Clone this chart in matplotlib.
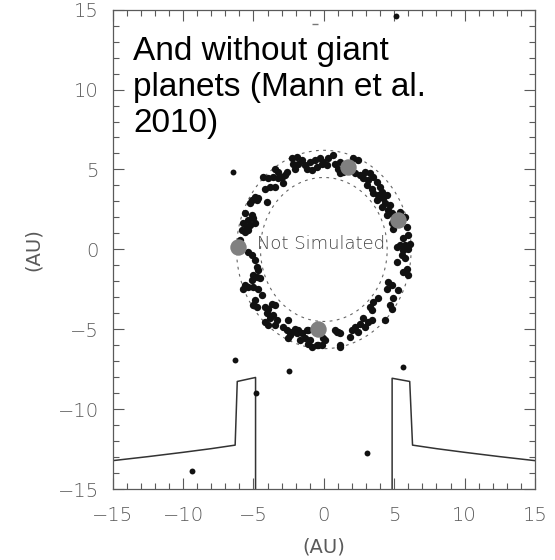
import numpy as np
import matplotlib
matplotlib.use("Agg")
import matplotlib.pyplot as plt

# debris particles in the belt (AU)
ring_x = [-2.29, -1.93, -1.58, -1.82, -1.34, -0.99, -0.63, -0.28, -0.16, -0.51, -0.87, -1.22, -2.05, -2.17,
          -3.47, -3.24, -3.59, -3.95, -4.30, -3.00, -2.76, -2.64, -3.24, -2.88, -3.83, -4.18, -3.47,
          -4.89, -4.66, -5.13, -5.25, -4.77, -4.06, -5.60, -5.13, -5.01, -5.37, -5.72, -5.48, -5.25,
          -5.84, -5.60, -5.37, -4.89, -5.96,
          -0.04, 0.31, 0.67, 0.20, 0.79, 1.14, 1.02, 1.14, 2.09, 2.44, 1.38, 2.21, 2.56, 2.92, 3.27,
          2.80, 3.15, 3.51, 3.04, 3.39, 3.75, 3.98, 3.51, 3.86, 4.10, 3.75, 4.22, 4.46, 4.34, 4.69,
          4.10, 4.57, 4.82, 4.46, 5.05, 4.82, 5.40, 5.76, 5.88, 4.93, 5.64, 5.99, 5.76, 6.12, 5.40,
          -5.37, -5.13, -4.89, -4.77, -4.66, -5.01, -4.77, -4.54, -5.13, -5.60, -5.37, -5.72, -5.01,
          -4.66, -4.42, -4.89, -5.01, -4.77, -4.18, -3.95, -3.71, -3.47, -4.06, -3.59, -3.83, -4.18,
          -3.95, -3.47, -3.35, -2.88, -2.64, -2.29, -2.05, -2.41, -1.93, -1.58, -1.22, -1.34, -1.70,
          -1.11, -0.87, -0.51,
          5.17, 5.64, 5.99, 5.76, 5.17, 5.53, 5.88, 5.64, 5.99, 4.57, 4.82, 4.46, 5.28, 4.93, 4.69,
          4.82, 3.51, 3.86, 3.27, 3.39, 2.80, 3.15, 3.39, 2.56, 2.92, 2.21, 2.44, 1.97, 1.85, 1.14,
          0.79, 1.02, -0.04, 1.14, -0.16, 4.34,
          -1.11, -0.99, -0.40, 0.08, 1.14, 0.91, -2.53, -1.82, -2.53]
ring_y = [5.69, 5.79, 5.58, 5.37, 5.27, 5.48, 5.58, 5.69, 5.37, 5.16, 4.96, 5.06, 5.06, 5.37,
          5.06, 4.85, 4.54, 4.44, 4.54, 4.54, 4.64, 4.85, 4.44, 4.13, 3.91, 3.81, 3.91,
          3.29, 3.19, 3.08, 2.88, 3.08, 2.98, 2.25, 2.14, 1.94, 1.83, 1.63, 1.41, 1.52,
          1.21, 1.10, 1.21, 1.63, 0.58,
          5.48, 5.69, 5.89, 5.27, 5.37, 5.48, 5.06, 4.75, 5.69, 5.58, 4.85, 4.75, 4.64, 4.85, 4.75,
          4.44, 4.33, 4.54, 4.02, 3.81, 4.23, 3.91, 3.50, 3.39, 3.60, 3.08, 3.19, 3.39, 2.88, 2.77,
          2.66, 2.46, 2.25, 2.14, 2.04, 1.63, 2.35, 2.04, 1.41, 1.31, 0.69, 0.89, 0.27, 0.37, 0.27,
          -0.15, -0.36, -0.67, -1.09, -1.29, -1.61, -1.71, -1.81, -1.92, -2.23, -2.34, -2.44, -2.34,
          -2.44, -2.86, -3.17, -3.48, -3.59, -3.59, -3.69, -3.38, -3.48, -4.00, -4.11, -4.31, -4.53,
          -4.73, -4.73, -4.42, -4.84, -5.04, -5.15, -4.94, -5.36, -5.25, -5.25, -5.04, -5.56, -5.67,
          -5.88, -6.09, -5.98,
          0.16, -0.04, 0.06, -0.56, -0.78, -0.36, -1.19, -1.40, -1.61, -2.03, -2.23, -2.44, -2.54, -3.06, -3.48,
          -3.69, -3.28, -3.06, -3.59, -3.79, -4.31, -4.53, -4.42, -4.63, -4.84, -4.84, -5.15, -5.04, -5.46, -5.25,
          -5.04, -5.15, -5.56, -5.98, -5.98, -4.42,
          -5.04, -5.67, -5.98, -5.67, -6.09, -5.15, -4.42, -5.04, -5.56]

# scattered particles away from the belt
stray_x = [-6.46, 5.12, -6.29, -4.84, -9.39, -2.48, 5.60, 3.04]
stray_y = [4.83, 14.6, -6.88, -9.00, -13.84, -7.60, -7.36, -12.73]

# planets (grey)
planet_x = [1.73, 5.28, -6.08, -0.44]
planet_y = [5.16, 1.83, 0.16, -5.00]

# belt boundaries
belt_radii = [4.5, 6.2]

# simulation edge
edge_left_x = [-15, -12.5, -10, -8, -6.3, -6.15, -4.85, -4.85]
edge_left_y = [-13.2, -12.95, -12.68, -12.45, -12.23, -8.25, -8.0, -15]
edge_right_x = [4.85, 4.85, 6.1, 6.3, 8, 10, 12.5, 15]
edge_right_y = [-15, -8.05, -8.25, -12.23, -12.45, -12.68, -12.95, -13.2]

grey = "#5a5a5a"
plt.rcParams["font.weight"] = "light"

fig = plt.figure(figsize=(5.55, 5.6), dpi=100)
ax = fig.add_axes([0.203, 0.126, 0.761, 0.857])

theta = np.linspace(0, 2 * np.pi, 400)
for r in belt_radii:
    ax.plot(r * np.cos(theta), r * np.sin(theta), color="#666666", lw=0.8,
            dashes=(2.5, 4))

ax.scatter(ring_x, ring_y, s=28, color="#111111", lw=0, zorder=3)
ax.scatter(stray_x, stray_y, s=18, color="#111111", lw=0, zorder=3)
ax.scatter(planet_x, planet_y, s=140, color="#808080", lw=0, zorder=4)
ax.plot(-0.63, 14.08, marker="_", ms=4, color="#777777")

ax.plot(edge_left_x, edge_left_y, color="#333333", lw=1.1)
ax.plot(edge_right_x, edge_right_y, color="#333333", lw=1.1)

ax.text(-4.75, 0.35, "Not Simulated", fontsize=13, color="#444444",
        va="center", ha="left", zorder=5)

ax.text(0.048, 0.945, "And without giant\nplanets (Mann et al.\n2010)",
        transform=ax.transAxes, fontsize=24, family="Liberation Sans",
        fontweight="normal", color="black", va="top", ha="left", linespacing=1.22)

ax.set_xlim(-15, 15)
ax.set_ylim(-15, 15)
ax.set_xticks(np.arange(-15, 16, 5))
ax.set_yticks(np.arange(-15, 16, 5))
ax.set_xticks(np.arange(-15, 16, 1), minor=True)
ax.set_yticks(np.arange(-15, 16, 1), minor=True)
ax.tick_params(which="both", direction="in", top=True, right=True, colors=grey,
               labelsize=14, labelcolor=grey)
ax.tick_params(which="major", length=8, width=0.8)
ax.tick_params(which="minor", length=4, width=0.8)
ax.tick_params(axis="x", pad=12)
ax.tick_params(axis="y", pad=10)
for s in ax.spines.values():
    s.set_color(grey)
    s.set_linewidth(0.9)

ax.set_xlabel("(AU)", fontsize=14, color=grey)
ax.set_ylabel("(AU)", fontsize=14, color=grey)
ax.xaxis.set_label_coords(0.5, -0.10, transform=ax.transAxes)
ax.yaxis.set_label_coords(-0.165, 0.5, transform=ax.transAxes)
ax.xaxis.label.set_va("top")

fig.savefig("out.png", dpi=100)
